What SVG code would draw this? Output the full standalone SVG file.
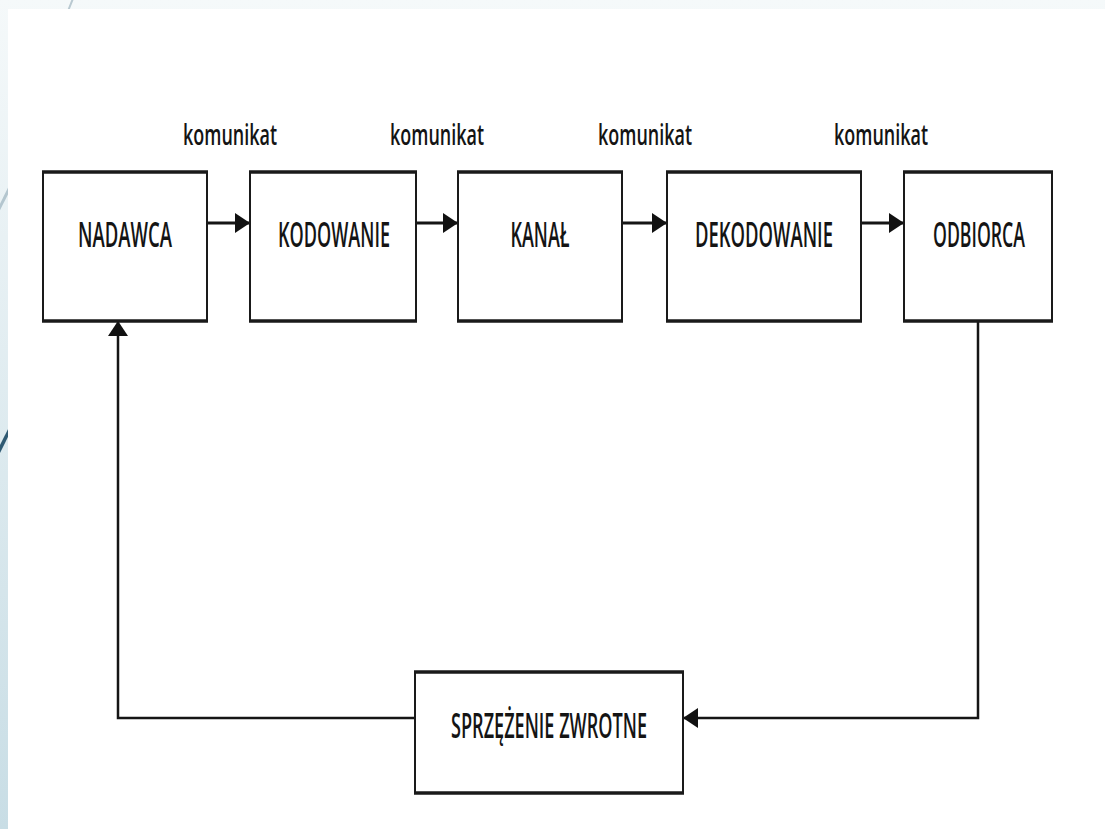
<svg xmlns="http://www.w3.org/2000/svg" width="1105" height="829" viewBox="0 0 1105 829">
  <defs>
    <linearGradient id="bg" x1="0" y1="0" x2="0" y2="1">
      <stop offset="0" stop-color="#f5f9fa"/>
      <stop offset="1" stop-color="#c8dde5"/>
    </linearGradient>
    <marker id="arr" markerUnits="userSpaceOnUse" markerWidth="16" markerHeight="22" refX="15" refY="11" orient="auto">
      <path d="M0,1 L15,11 L0,21 Z" fill="#111"/>
    </marker>
    <style>
      .box { fill: #ffffff; stroke: #1a1a1a; stroke-width: 2; }
      .edge { stroke: #1a1a1a; stroke-width: 3.5; }
      .lbl { font-family: "Open Sans", "Liberation Sans", sans-serif; font-size: 34px; font-weight: 600; fill: #141414; text-anchor: middle; }
      .msg { font-family: "Open Sans", "Liberation Sans", sans-serif; font-size: 28px; font-weight: 600; fill: #141414; text-anchor: middle; }
      .conn { fill: none; stroke: #151515; stroke-width: 3; }
      .fb { fill: none; stroke: #151515; stroke-width: 2.5; }
    </style>
  </defs>

  <!-- background -->
  <rect x="0" y="0" width="1105" height="829" fill="url(#bg)"/>
  <line x1="74" y1="-4" x2="62" y2="26" stroke="#b9c9d1" stroke-width="2"/>
  <line x1="-2" y1="211" x2="10" y2="187" stroke="#b4c6cf" stroke-width="3"/>
  <line x1="-2" y1="453" x2="10" y2="429" stroke="#2f5a73" stroke-width="3.5"/>
  <rect x="8" y="9" width="1097" height="820" fill="#ffffff"/>

  <!-- connectors -->
  <g id="connectors">
    <line class="conn" x1="207" y1="223" x2="250" y2="223" marker-end="url(#arr)"/>
    <line class="conn" x1="416" y1="223" x2="458" y2="223" marker-end="url(#arr)"/>
    <line class="conn" x1="622" y1="223" x2="667" y2="223" marker-end="url(#arr)"/>
    <line class="conn" x1="861" y1="223" x2="904" y2="223" marker-end="url(#arr)"/>
    <path class="fb" d="M978,321 V718 H683" marker-end="url(#arr)"/>
    <path class="fb" d="M415,718 H118 V321" marker-end="url(#arr)"/>
    <text class="msg" x="230" y="145" textLength="94" lengthAdjust="spacingAndGlyphs">komunikat</text>
    <text class="msg" x="437" y="145" textLength="94" lengthAdjust="spacingAndGlyphs">komunikat</text>
    <text class="msg" x="645" y="145" textLength="94" lengthAdjust="spacingAndGlyphs">komunikat</text>
    <text class="msg" x="881" y="145" textLength="94" lengthAdjust="spacingAndGlyphs">komunikat</text>
  </g>

  <g id="nadawca">
    <rect class="box" x="43" y="172" width="164" height="149"/>
    <line class="edge" x1="42" y1="172" x2="208" y2="172"/>
    <line class="edge" x1="42" y1="321" x2="208" y2="321"/>
    <text class="lbl" x="125" y="247" textLength="94" lengthAdjust="spacingAndGlyphs">NADAWCA</text>
  </g>
  <g id="kodowanie">
    <rect class="box" x="250" y="172" width="166" height="149"/>
    <line class="edge" x1="249" y1="172" x2="417" y2="172"/>
    <line class="edge" x1="249" y1="321" x2="417" y2="321"/>
    <text class="lbl" x="334" y="247" textLength="112" lengthAdjust="spacingAndGlyphs">KODOWANIE</text>
  </g>
  <g id="kanal">
    <rect class="box" x="458" y="172" width="164" height="149"/>
    <line class="edge" x1="457" y1="172" x2="623" y2="172"/>
    <line class="edge" x1="457" y1="321" x2="623" y2="321"/>
    <text class="lbl" x="540" y="247" textLength="59" lengthAdjust="spacingAndGlyphs">KANAŁ</text>
  </g>
  <g id="dekodowanie">
    <rect class="box" x="667" y="172" width="194" height="149"/>
    <line class="edge" x1="666" y1="172" x2="862" y2="172"/>
    <line class="edge" x1="666" y1="321" x2="862" y2="321"/>
    <text class="lbl" x="764" y="247" textLength="138" lengthAdjust="spacingAndGlyphs">DEKODOWANIE</text>
  </g>
  <g id="odbiorca">
    <rect class="box" x="904" y="172" width="148" height="149"/>
    <line class="edge" x1="903" y1="172" x2="1053" y2="172"/>
    <line class="edge" x1="903" y1="321" x2="1053" y2="321"/>
    <text class="lbl" x="979" y="247" textLength="92" lengthAdjust="spacingAndGlyphs">ODBIORCA</text>
  </g>
  <g id="sprzezenie">
    <rect class="box" x="415" y="672" width="268" height="121"/>
    <line class="edge" x1="414" y1="672" x2="684" y2="672"/>
    <line class="edge" x1="414" y1="793" x2="684" y2="793"/>
    <text class="lbl" x="549" y="738" textLength="196" lengthAdjust="spacingAndGlyphs">SPRZĘŻENIE ZWROTNE</text>
  </g>
</svg>
